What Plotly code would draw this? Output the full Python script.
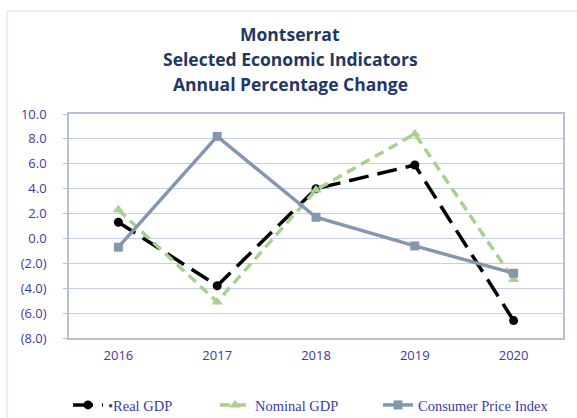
import plotly.graph_objects as go

years = ["2016", "2017", "2018", "2019", "2020"]
real_gdp = [1.3, -3.8, 4.0, 5.9, -6.6]
nominal_gdp = [2.3, -5.1, 3.9, 8.4, -3.3]
cpi = [-0.7, 8.2, 1.7, -0.6, -2.8]
y_ticks = [10, 8, 6, 4, 2, 0, -2, -4, -6, -8]
y_tick_labels = ["10.0", "8.0", "6.0", "4.0", "2.0", "0.0", "(2.0)", "(4.0)", "(6.0)", "(8.0)"]
title_lines = ["Montserrat", "Selected Economic Indicators", "Annual Percentage Change"]

PL, PT, PW, PH = 69, 114, 494, 224

fig = go.Figure()
fig.add_trace(go.Scatter(x=years, y=real_gdp, name="•Real GDP", mode="lines+markers",
                         line=dict(color="black", width=3.5, dash="20px,9px"),
                         marker=dict(symbol="circle", size=9, color="black"), legend="legend"))
fig.add_trace(go.Scatter(x=years, y=nominal_gdp, name="Nominal GDP", mode="lines+markers",
                         line=dict(color="#A9D18E", width=3.5, dash="10px,6px"),
                         marker=dict(symbol="triangle-up", size=10, color="#A9D18E"), legend="legend2"))
fig.add_trace(go.Scatter(x=years, y=cpi, name="Consumer Price Index", mode="lines+markers",
                         line=dict(color="#8497B0", width=3.5),
                         marker=dict(symbol="square", size=9, color="#8497B0"), legend="legend3"))

tick_font = dict(family="Open Sans", size=13, color="#3B3B9E")
legend_font = dict(family="Liberation Serif", size=14.5, color="#3B3B9E")


def leg(px_x):
    return dict(orientation="h", x=(px_x - PL) / PW, xanchor="left",
                y=-(405 - (PT + PH)) / PH, yanchor="middle", font=legend_font,
                bgcolor="rgba(0,0,0,0)")


fig.update_layout(
    width=577, height=418,
    margin=dict(l=PL, r=577 - PL - PW, t=PT, b=418 - PT - PH, autoexpand=False),
    paper_bgcolor="white", plot_bgcolor="white",
    showlegend=True,
    legend=leg(68), legend2=leg(215), legend3=leg(378),
    xaxis=dict(type="category", range=[-0.5, 4.5], showgrid=False, tickfont=tick_font,
               showline=True, linecolor="#B4C0D4", linewidth=1.5, mirror=True, ticks="",
               ticklabelstandoff=5),
    yaxis=dict(range=[-8, 10], tickvals=y_ticks, ticktext=y_tick_labels, tickfont=tick_font,
               showgrid=True, gridcolor="#C5D0E2", gridwidth=1.2, zeroline=False,
               showline=True, linecolor="#B4C0D4", linewidth=1.5, mirror=True,
               ticks="outside", ticklen=4, tickcolor="#B4C0D4", ticklabelstandoff=14),
)
for i, t in enumerate(title_lines):
    fig.add_annotation(text=f"<b>{t}</b>", xref="paper", yref="paper", x=(290 - PL) / PW,
                       y=1 + (PT - 34 - 25 * i) / PH, yanchor="middle", showarrow=False,
                       font=dict(family="Open Sans", size=17.5, color="#1F3864"))
fig.add_shape(type="line", xref="paper", yref="paper", x0=-62 / PW, x1=1.1,
              y0=1 + 103 / PH, y1=1 + 103 / PH, line=dict(color="#E3E9F4", width=1.5))
fig.add_shape(type="line", xref="paper", yref="paper", x0=-62 / PW, x1=-62 / PW,
              y0=1 + 103 / PH, y1=-80 / PH, line=dict(color="#E3E9F4", width=1.5))
fig.write_html("out.html", config={"displayModeBar": False},
               post_script="document.body.style.margin='0';document.body.style.overflow='hidden';")
